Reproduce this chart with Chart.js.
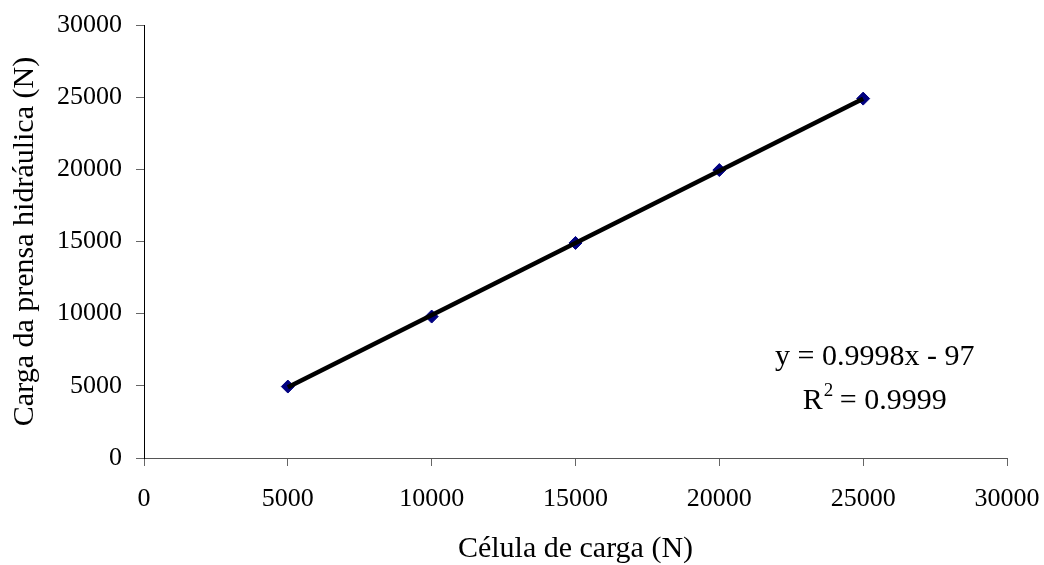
<!DOCTYPE html>
<html>
<head>
<meta charset="utf-8">
<script src="https://cdn.jsdelivr.net/npm/chart.js@4.4.0/dist/chart.umd.min.js"></script>
<style>
  html, body { margin: 0; padding: 0; background: #fff; }
  #wrap { width: 1044px; height: 565px; }
</style>
</head>
<body>
<div id="wrap"><canvas id="chart" width="1044" height="565"></canvas></div>
<script>
// measured points
var cellLoad = [5000, 10000, 15000, 20000, 25000];
var pressLoad = [4950, 9800, 14900, 19950, 24900];
// trendline ends, y = 0.9998x - 97
var trendX = [5000, 25000];
var trendY = [4902, 24898];
var eqText = "y = 0.9998x - 97";
var r2Text = "0.9999";
var tickValues = [0, 5000, 10000, 15000, 20000, 25000, 30000];

var serif = "'Liberation Serif', 'Times New Roman', serif";

function toXY(xs, ys) {
    var out = [];
    for (var i = 0; i < xs.length; i++) {
        out.push({x: xs[i], y: ys[i]});
    }
    return out;
}

// writes the regression text inside the plot
var eqPlugin = {
    id: 'eqText',
    afterDraw: function (chart) {
        var ctx = chart.ctx;
        var xs = chart.scales.x, ys = chart.scales.y;
        var cx = xs.getPixelForValue(25400);
        ctx.save();
        ctx.fillStyle = '#000';
        ctx.textBaseline = 'middle';
        ctx.font = '30px ' + serif;
        ctx.textAlign = 'center';
        ctx.fillText(eqText, cx, ys.getPixelForValue(7000));

        // R² line with a raised small 2
        var y2 = ys.getPixelForValue(3950);
        var a = "R", b = " = " + r2Text;
        ctx.font = '30px ' + serif;
        var wa = ctx.measureText(a).width, wb = ctx.measureText(b).width;
        ctx.font = '19px ' + serif;
        var ws = ctx.measureText("2").width;
        var x0 = cx - (wa + ws + wb) / 2;
        ctx.textAlign = 'left';
        ctx.font = '30px ' + serif;
        ctx.fillText(a, x0, y2);
        ctx.font = '19px ' + serif;
        ctx.fillText("2", x0 + wa + 1, y2 - 10);
        ctx.font = '30px ' + serif;
        ctx.fillText(b, x0 + wa + ws, y2);
        ctx.restore();
    }
};

var ctx = document.getElementById("chart").getContext('2d');
var myChart = new Chart(ctx, {
    type: 'scatter',
    data: {
        datasets: [{
            label: 'Linear',
            data: toXY(trendX, trendY),
            showLine: true,
            borderColor: '#000',
            borderWidth: 4.5,
            pointRadius: 0,
            fill: false
        }, {
            label: 'Carga',
            data: toXY(cellLoad, pressLoad),
            pointStyle: 'rectRot',
            pointRadius: 6.5,
            backgroundColor: '#000080',
            borderColor: '#000080',
            borderWidth: 1,
            showLine: false
        }]
    },
    options: {
        responsive: false,
        animation: false,
        layout: { padding: { left: 0, right: 37, top: 25, bottom: 0 } },
        plugins: {
            legend: { display: false },
            tooltip: { enabled: false }
        },
        scales: {
            x: {
                type: 'linear',
                min: 0, max: 30000,
                afterBuildTicks: function (scale) {
                    scale.ticks = tickValues.map(function (v) { return {value: v}; });
                },
                afterFit: function (scale) {
                    scale.height = 107;
                    scale.paddingLeft = 0;
                    scale.paddingRight = 0;
                },
                grid: { drawOnChartArea: false, tickLength: 8, color: '#666', tickWidth: 1 },
                border: { color: '#555', width: 1 },
                ticks: {
                    color: '#000', padding: 18, maxRotation: 0,
                    font: { family: serif, size: 26 },
                    callback: function (v) { return String(v); }
                },
                title: {
                    display: true, text: 'Célula de carga (N)', color: '#000',
                    font: { family: serif, size: 30 }, padding: { top: 4, bottom: -2 }
                }
            },
            y: {
                type: 'linear',
                min: 0, max: 30000,
                afterBuildTicks: function (scale) {
                    scale.ticks = tickValues.map(function (v) { return {value: v}; });
                },
                afterFit: function (scale) {
                    scale.width = 144;
                    scale.paddingTop = 0;
                    scale.paddingBottom = 0;
                },
                grid: { drawOnChartArea: false, tickLength: 8, color: '#666', tickWidth: 1 },
                border: { color: '#000', width: 1 },
                ticks: {
                    color: '#000', padding: 14,
                    font: { family: serif, size: 26 },
                    callback: function (v) { return String(v); }
                },
                title: {
                    display: true, text: 'Carga da prensa hidráulica (N)', color: '#000',
                    font: { family: serif, size: 30 }, padding: { top: 7, bottom: 0 }
                }
            }
        }
    },
    plugins: [eqPlugin]
});
</script>
</body>
</html>
